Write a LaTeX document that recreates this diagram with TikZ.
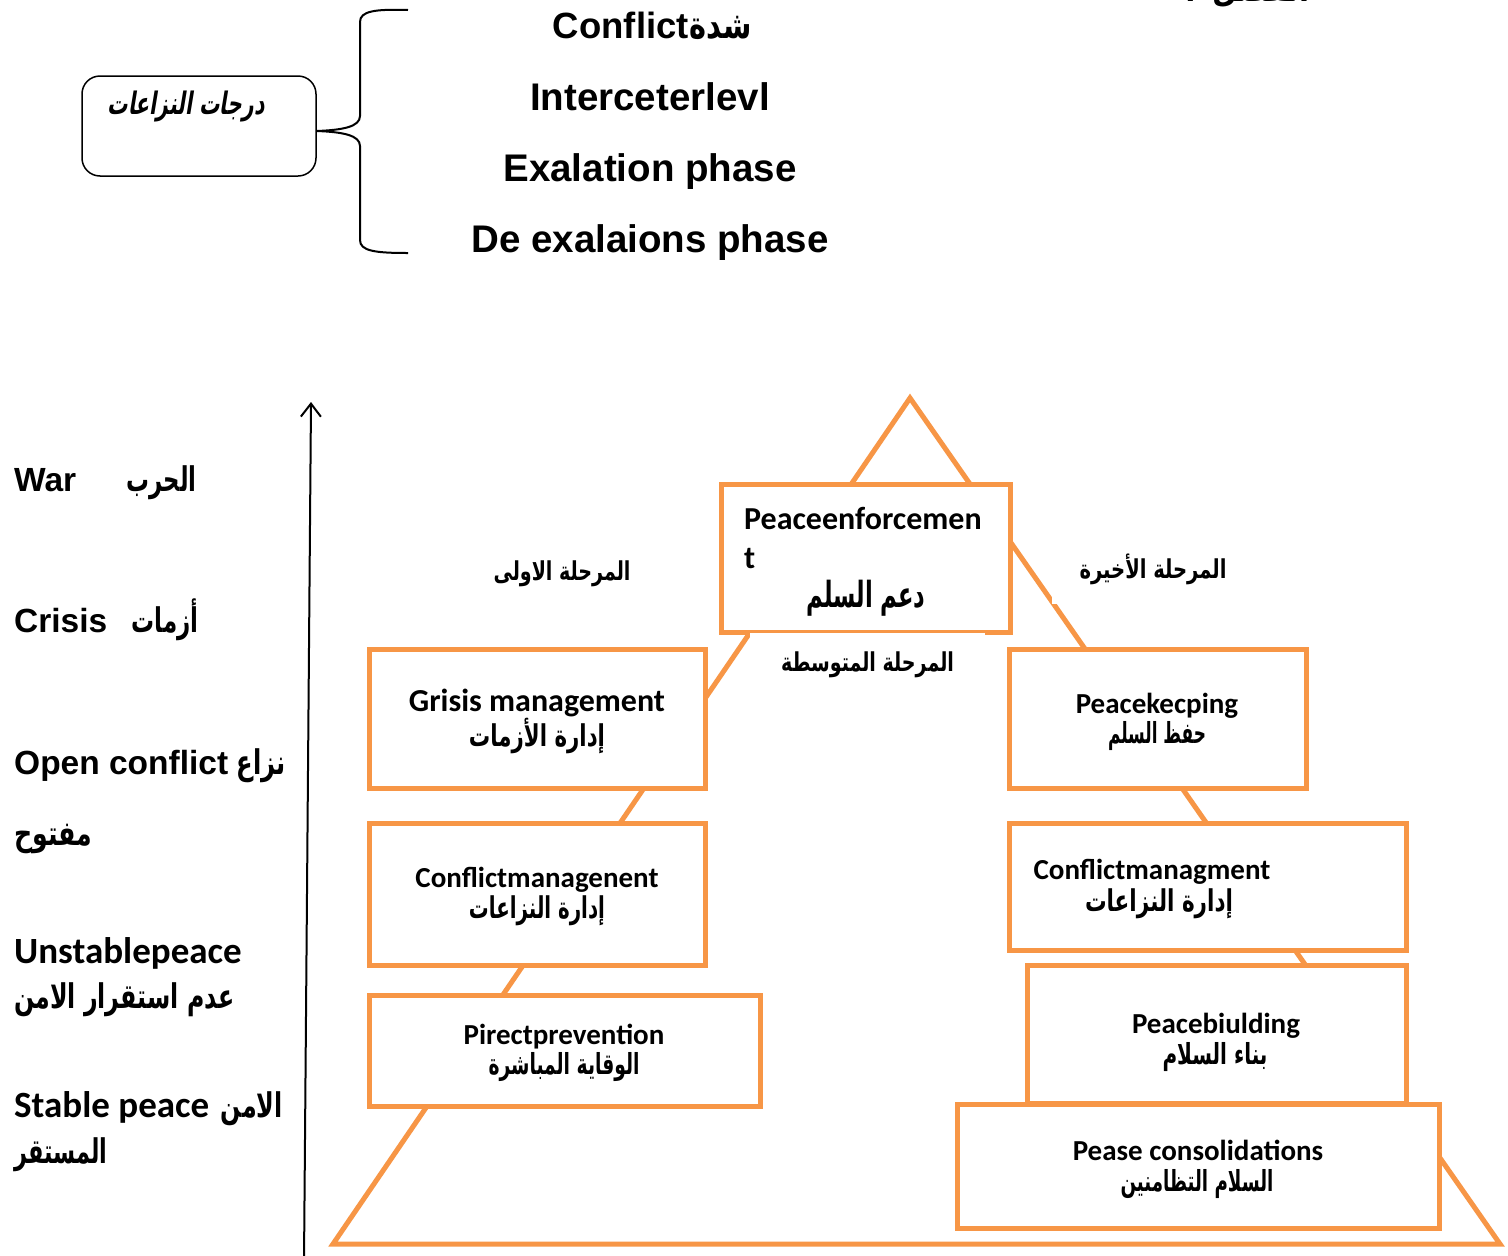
\documentclass[tikz,border=0pt]{standalone}
\usepackage{graphicx}
\usepackage{fontspec}
\setmainfont{Liberation Sans}
\newfontfamily\calfont{Carlito}
\newfontfamily\arfont[Script=Arabic]{DejaVu Sans}
\newfontfamily\aritfont[Script=Arabic,FakeSlant=0.25]{DejaVu Sans}
\TeXXeTstate=1
\usetikzlibrary{arrows.meta}
\definecolor{org}{HTML}{F79646}
\newcommand\AR[3]{\resizebox{#1pt}{\height}{\arfont\bfseries\fontsize{#2}{#2}\selectfont #3}}
\newcommand\ARit[3]{\resizebox{#1pt}{\height}{\aritfont\bfseries\fontsize{#2}{#2}\selectfont #3}}
\tikzset{
 obox/.style={draw=org, line width=5pt, fill=white, rectangle, inner sep=0pt},
 oline/.style={draw=org, line width=5pt, line join=miter},
 ttl/.style={inner sep=0pt, anchor=base, font=\fontsize{38.5}{46}\selectfont\bfseries},
 lab/.style={inner sep=0pt, anchor=base west, font=\fontsize{33.5}{40}\selectfont\bfseries},
 clab/.style={inner sep=0pt, anchor=base west, font=\calfont\fontsize{37}{44}\selectfont\bfseries},
 btxt/.style={inner sep=0pt, anchor=base, font=\calfont\fontsize{29}{35}\selectfont\bfseries},
 btxtl/.style={inner sep=0pt, anchor=base, font=\calfont\fontsize{32}{38}\selectfont\bfseries},
 ar/.style={inner sep=0pt, anchor=base},
 arw/.style={inner sep=0pt, anchor=base west},
 are/.style={inner sep=0pt, anchor=base east},
}
\begin{document}
\begin{tikzpicture}[x=1pt,y=-1pt]
\useasboundingbox[fill=white] (0,0) rectangle (1508,1256);

% cut-off heading at top right
\node[ar] (hd) at (1247,1) {\AR{125}{34}{\beginR الفصل ٢\endR}};

% levels box and brace
\node[draw, line width=1.5pt, rounded corners=18pt, minimum width=234pt, minimum height=100pt, inner sep=0pt] (lvl) at (199,126) {};
\node[ar] (lvlt) at (186,114) {\ARit{157}{31}{\beginR درجات النزاعات\endR}};
\draw[line width=2pt] (408,10) .. controls (375,9) and (360,11) .. (360,22) -- (360,116)
  .. controls (360,127) and (342,130) .. (lvl.east |- 0,131)
  .. controls (342,132) and (360,135) .. (360,146) -- (360,240)
  .. controls (360,251) and (375,253) .. (408,253);

% top texts
\node[ttl, anchor=base east, font=\fontsize{36.5}{44}\selectfont\bfseries] (t1) at (689,38.5) {Conflict};
\node[are] (t1a) at (752,38.5) {\AR{62}{38}{\beginR شدة\endR}};
\node[ttl] (t2) at (650,110) {Interceterlevl};
\node[ttl] (t3) at (650,181) {Exalation phase};
\node[ttl] (t4) at (650,252) {De exalaions phase};

% vertical axis
\coordinate (axb) at (304,1262);
\coordinate (axt) at (311,402);
\draw[line width=2pt, -{Straight Barb[length=13pt,width=20pt,line width=2pt]}] (axb) -- (axt);

% left labels
\node[lab] (war) at (14,491) {War};
\node[are] (wara) at (197,491) {\AR{70}{34}{\beginR الحرب\endR}};
\node[lab] (cri) at (14,632) {Crisis};
\node[are] (cria) at (199,632) {\AR{67}{34}{\beginR أزمات\endR}};
\node[lab] (opc) at (14,774) {Open conflict};
\node[are] (opca) at (286,774) {\AR{49}{34}{\beginR نزاع\endR}};
\node[arw] (opcb) at (14,845) {\AR{78}{34}{\beginR مفتوح\endR}};
\node[clab] (unp) at (14,963) {Unstablepeace};
\node[arw] (unpa) at (14,1008) {\AR{220}{34}{\beginR عدم استقرار الامن\endR}};
\node[clab] (stp) at (14,1117) {Stable peace};
\node[are] (stpa) at (283,1117) {\AR{62}{34}{\beginR الامن\endR}};
\node[arw] (stpb) at (14,1163) {\AR{93}{34}{\beginR المستقر\endR}};

% pyramid
\draw[oline] (910,398) -- (1500,1244) -- (333,1244) -- cycle;

% phase labels
\node[ar] (ph1) at (562,580) {\AR{137}{26}{\beginR المرحلة الاولى\endR}};
\node[fill=white, minimum width=202pt, minimum height=68pt, inner sep=0pt] (ph3bg) at (1153,570) {};
\node[ar] (ph3) at (1153,578) {\AR{147}{26}{\beginR المرحلة الأخيرة\endR}};

% boxes
\node[obox, minimum width=289pt, minimum height=148pt] (pe) at (865.5,558) {};
\node[fill=white, minimum width=235pt, minimum height=56pt, inner sep=0pt] (ph2bg) at (867.5,661) {};
\node[ar] (ph2) at (867.5,671) {\AR{173}{26}{\beginR المرحلة المتوسطة\endR}};
\node[btxtl, anchor=base west] (pe1) at (744,529) {Peaceenforcemen};
\node[btxtl, anchor=base west] (pe2) at (744,568) {t};
\node[ar] (pe3) at (866,607) {\AR{119}{36}{\beginR دعم السلم\endR}};

\node[obox, minimum width=336pt, minimum height=139pt] (gm) at (537,718.5) {};
\node[btxtl] (gm1) at (537,711) {Grisis management};
\node[ar] (gm2) at (537,746) {\AR{136}{30}{\beginR إدارة الأزمات\endR}};

\node[obox, minimum width=336pt, minimum height=142pt] (cm) at (537,894) {};
\node[btxt] (cm1) at (537,887) {Conflictmanagenent};
\node[ar] (cm2) at (537,918) {\AR{136}{30}{\beginR إدارة النزاعات\endR}};

\node[obox, minimum width=391pt, minimum height=111pt] (pp) at (564.5,1050.5) {};
\node[btxt] (pp1) at (564,1044) {Pirectprevention};
\node[ar] (pp2) at (564,1074) {\AR{151}{29}{\beginR الوقاية المباشرة\endR}};

\node[obox, minimum width=297pt, minimum height=139pt] (pk) at (1157.5,718.5) {};
\node[btxt] (pk1) at (1157,713) {Peacekecping};
\node[ar] (pk2) at (1157,743) {\AR{98}{29}{\beginR حفظ السلم\endR}};

\node[obox, minimum width=397pt, minimum height=127pt] (cn) at (1207.5,886.5) {};
\node[btxt] (cn1) at (1152,879) {Conflictmanagment};
\node[ar] (cn2) at (1159,911) {\AR{148}{30}{\beginR إدارة النزاعات\endR}};

\node[obox, minimum width=379pt, minimum height=138pt] (pb) at (1216.5,1034) {};
\node[btxt] (pb1) at (1216,1033) {Peacebiulding};
\node[ar] (pb2) at (1215,1064) {\AR{105}{29}{\beginR بناء السلام\endR}};

\node[obox, minimum width=482pt, minimum height=124pt] (pc) at (1198,1166) {};
\node[btxt] (pc1) at (1198,1160) {Pease consolidations};
\node[ar] (pc2) at (1197,1191) {\AR{153}{29}{\beginR السلام التظامنين\endR}};
\end{tikzpicture}
\end{document}
